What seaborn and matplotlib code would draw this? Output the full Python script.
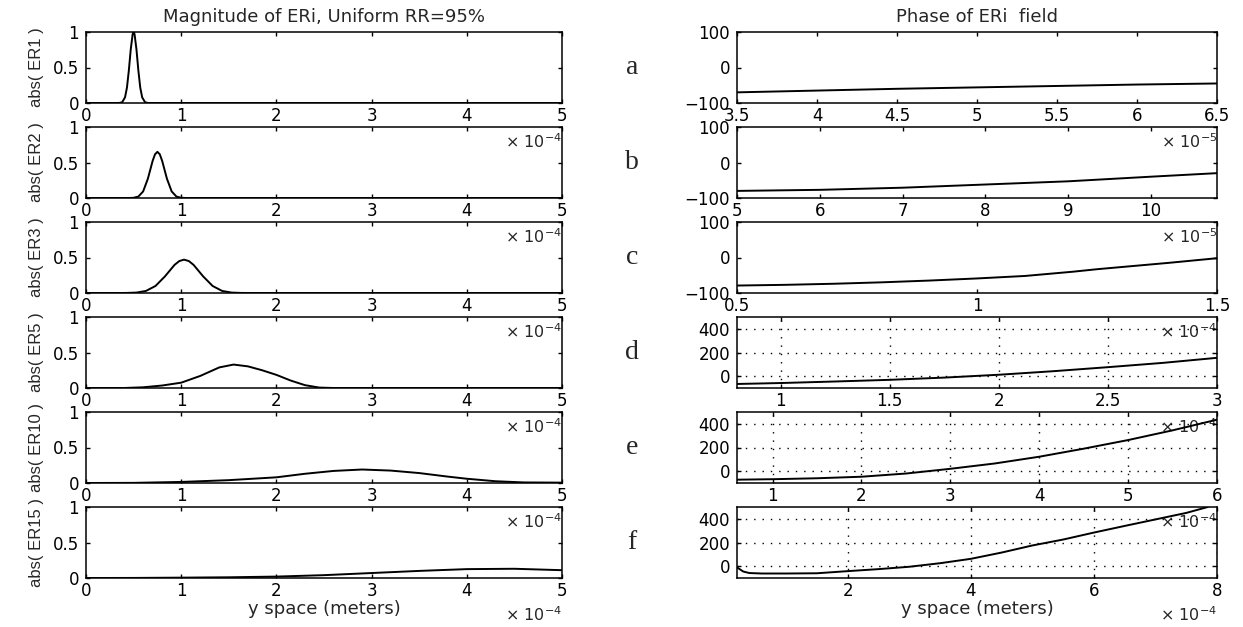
import matplotlib
matplotlib.use("Agg")
import matplotlib.pyplot as plt
import seaborn as sns

# ---------------- data (x in units shown on the axes) ----------------
# Magnitude panels (x in 1e-4 m)
er1_x = [0, 0.30, 0.35, 0.38, 0.41, 0.43, 0.45, 0.47, 0.49, 0.50, 0.51, 0.53, 0.55, 0.57, 0.59, 0.62, 0.65, 0.70, 5]
er1_y = [0, 0.0, 0.001, 0.011, 0.080, 0.216, 0.458, 0.755, 0.969, 1.0, 0.969, 0.755, 0.458, 0.216, 0.080, 0.011, 0.001, 0.0, 0]

er2_x = [0, 0.45, 0.50, 0.55, 0.60, 0.65, 0.70, 0.725, 0.75, 0.775, 0.80, 0.85, 0.90, 0.95, 1.00, 1.05, 5]
er2_y = [0, 0.0, 0.003, 0.020, 0.092, 0.272, 0.523, 0.616, 0.65, 0.616, 0.523, 0.272, 0.092, 0.020, 0.003, 0.0, 0]

er3_x = [0, 0.35, 0.43, 0.53, 0.63, 0.73, 0.83, 0.93, 0.98, 1.03, 1.08, 1.13, 1.23, 1.33, 1.43, 1.53, 1.63, 1.75, 5]
er3_y = [0, 0.0, 0.001, 0.006, 0.029, 0.099, 0.235, 0.396, 0.45, 0.47, 0.45, 0.396, 0.235, 0.099, 0.029, 0.006, 0.001, 0.0, 0]

er5_x = [0, 0.40, 0.60, 0.80, 1.00, 1.20, 1.40, 1.55, 1.70, 1.85, 2.00, 2.15, 2.30, 2.45, 2.60, 5]
er5_y = [0, 0.0, 0.010, 0.035, 0.075, 0.170, 0.290, 0.330, 0.305, 0.250, 0.185, 0.105, 0.040, 0.006, 0.0, 0]

er10_x = [0, 0.5, 1.0, 1.5, 2.0, 2.3, 2.6, 2.9, 3.2, 3.5, 3.8, 4.0, 4.3, 4.6, 5.0]
er10_y = [0, 0.002, 0.015, 0.040, 0.080, 0.130, 0.170, 0.190, 0.175, 0.140, 0.090, 0.060, 0.025, 0.008, 0.005]

er15_x = [0, 0.5, 1.0, 1.5, 2.0, 2.5, 3.0, 3.5, 4.0, 4.5, 5.0]
er15_y = [0, 0.001, 0.005, 0.010, 0.020, 0.040, 0.070, 0.100, 0.125, 0.130, 0.110]

mag_labels = ["abs( ER1 )", "abs( ER2 )", "abs( ER3 )", "abs( ER5 )", "abs( ER10 )", "abs( ER15 )"]

# Phase panels
pa_x = [3.5, 4.0, 4.5, 5.0, 5.5, 6.0, 6.5]            # x 1e-5
pa_y = [-70, -65, -60, -56, -52, -48, -45]
pb_x = [5, 6, 7, 8, 9, 10, 10.8]                       # x 1e-5
pb_y = [-80, -77, -71, -62, -53, -40, -30]
pc_x = [0.5, 0.6, 0.7, 0.8, 0.9, 1.0, 1.1, 1.2, 1.25, 1.3, 1.4, 1.5]   # x 1e-4
pc_y = [-79, -77, -74, -70, -65, -59, -52, -40, -33, -27, -15, -2]
pd_x = [0.8, 1.0, 1.25, 1.5, 1.75, 2.0, 2.25, 2.5, 2.75, 3.0]           # x 1e-4
pd_y = [-66, -58, -45, -31, -12, 12, 42, 76, 112, 155]
pe_x = [0.6, 1.0, 1.5, 2.0, 2.5, 3.0, 3.5, 4.0, 4.5, 5.0, 5.5, 6.0]     # x 1e-4
pe_y = [-72, -68, -60, -47, -20, 20, 65, 122, 190, 263, 345, 435]
pf_x = [0.2, 0.3, 0.4, 0.6, 1.0, 1.5, 2.0, 2.5, 3.0, 3.5, 4.0, 4.5, 5.0, 5.5, 6.0, 6.5, 7.0, 7.5, 7.85]  # x 1e-4
pf_y = [-10, -45, -58, -62, -62, -60, -42, -25, -5, 25, 62, 115, 175, 225, 284, 340, 395, 450, 500]

mag_series = [(er1_x, er1_y), (er2_x, er2_y), (er3_x, er3_y), (er5_x, er5_y), (er10_x, er10_y), (er15_x, er15_y)]
phase_series = [(pa_x, pa_y), (pb_x, pb_y), (pc_x, pc_y), (pd_x, pd_y), (pe_x, pe_y), (pf_x, pf_y)]
phase_xlims = [(3.5, 6.5), (5, 10.8), (0.5, 1.5), (0.8, 3.0), (0.6, 6.0), (0.2, 8.0)]
phase_xticks = [[3.5, 4, 4.5, 5, 5.5, 6, 6.5], [5, 6, 7, 8, 9, 10], [0.5, 1, 1.5],
                [1, 1.5, 2, 2.5, 3], [1, 2, 3, 4, 5, 6], [2, 4, 6, 8]]
phase_exp = ["-5", "-5", "-4", "-4", "-4", "-4"]
row_letters = ["a", "b", "c", "d", "e", "f"]

# ---------------- style ----------------
sns.set_style("ticks")
plt.rcParams['font.family'] = ['DejaVu Sans']
plt.rcParams['mathtext.default'] = 'regular'
plt.rcParams['xtick.direction'] = 'in'
plt.rcParams['ytick.direction'] = 'in'
plt.rcParams['xtick.top'] = True
plt.rcParams['ytick.right'] = True
plt.rcParams['xtick.major.size'] = 3
plt.rcParams['ytick.major.size'] = 3
plt.rcParams['xtick.major.width'] = 1.0
plt.rcParams['ytick.major.width'] = 1.0
plt.rcParams['axes.edgecolor'] = 'black'
plt.rcParams['axes.linewidth'] = 1.1
plt.rcParams['xtick.color'] = 'black'
plt.rcParams['ytick.color'] = 'black'

W, H = 1243, 627
fig = plt.figure(figsize=(W / 100, H / 100), dpi=100)
fig.patch.set_facecolor('white')

rows = [(32, 103), (127, 198), (222, 293), (317, 388), (412, 483), (507, 578)]
LX0, LX1 = 86, 562
RX0, RX1 = 737, 1217
TICKFS = 12
LABFS = 13
EXPFS = 11.5

def fmt(v):
    return ('%g' % v)

for i, (top, bot) in enumerate(rows):
    hfrac = (bot - top) / H
    axL = fig.add_axes([LX0 / W, 1 - bot / H, (LX1 - LX0) / W, hfrac])
    axR = fig.add_axes([RX0 / W, 1 - bot / H, (RX1 - RX0) / W, hfrac])
    for ax in (axL, axR):
        ax.patch.set_visible(False)
        for s in ax.spines.values():
            s.set_visible(True)
            s.set_color('black')
        ax.tick_params(axis='x', pad=3)
        ax.tick_params(axis='y', pad=5)
    # magnitude
    mx, my = mag_series[i]
    sns.lineplot(x=mx, y=my, ax=axL, color='black', linewidth=1.4,
                 estimator=None, sort=False, legend=False)
    axL.set_xlim(0, 5)
    axL.set_ylim(0, 1)
    axL.set_xticks([0, 1, 2, 3, 4, 5])
    axL.set_xticklabels([fmt(v) for v in [0, 1, 2, 3, 4, 5]], fontsize=TICKFS)
    axL.set_yticks([0, 0.5, 1])
    axL.set_yticklabels(["0", "0.5", "1"], fontsize=TICKFS)
    axL.set_ylabel(mag_labels[i], fontsize=12, family=['Liberation Sans', 'DejaVu Sans'], labelpad=6)
    off = 37 if i == 5 else 39
    axL.annotate("× 10$^{-4}$", xy=(1, 0), xycoords='axes fraction',
                 xytext=(0, -off), textcoords='offset pixels', ha='right', va='center',
                 fontsize=EXPFS, annotation_clip=False, zorder=20)

    # phase
    px, py = phase_series[i]
    sns.lineplot(x=px, y=py, ax=axR, color='black', linewidth=1.4,
                 estimator=None, sort=False, legend=False)
    axR.set_xlim(*phase_xlims[i])
    axR.set_xticks(phase_xticks[i])
    axR.set_xticklabels([fmt(v) for v in phase_xticks[i]], fontsize=TICKFS)
    if i < 3:
        axR.set_ylim(-100, 100)
        axR.set_yticks([-100, 0, 100])
        axR.set_yticklabels(["\u2212100", "0", "100"], fontsize=TICKFS)
    else:
        axR.set_ylim(-100, 500)
        axR.set_yticks([0, 200, 400])
        axR.set_yticklabels(["0", "200", "400"], fontsize=TICKFS)
        axR.grid(True, linestyle=(0, (1, 5)), color='black', linewidth=1.0)
    roff = 37 if i == 5 else 39
    axR.annotate("× 10$^{" + phase_exp[i] + "}$", xy=(1, 0), xycoords='axes fraction',
                 xytext=(0, -roff), textcoords='offset pixels', ha='right', va='center',
                 fontsize=EXPFS, annotation_clip=False, zorder=20)

    if i == 5:
        axL.set_xlabel("y space (meters)", fontsize=LABFS, labelpad=0)
        axR.set_xlabel("y space (meters)", fontsize=LABFS, labelpad=0)

    if i == 0:
        axL.set_title("Magnitude of ERi, Uniform RR=95%", fontsize=LABFS, pad=7)
        axR.set_title("Phase of ERi  field", fontsize=LABFS, pad=7)

    fig.text(632 / W, 1 - ((top + bot) / 2) / H, row_letters[i],
             family=['Liberation Serif', 'DejaVu Serif'], fontsize=20,
             ha='center', va='center')

fig.savefig("out.png", dpi=100, facecolor='white')
